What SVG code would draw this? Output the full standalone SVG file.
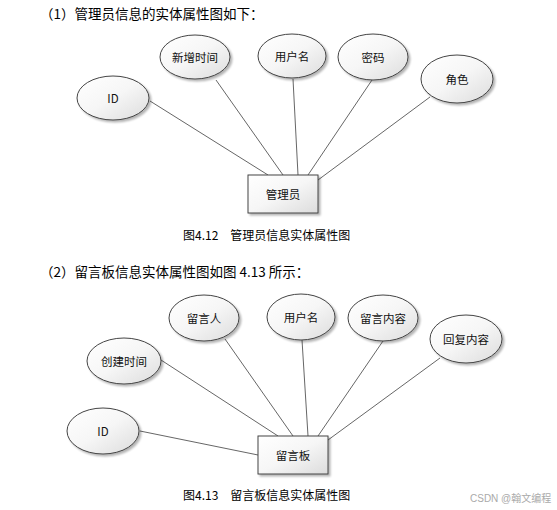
<svg xmlns="http://www.w3.org/2000/svg" width="557" height="510" viewBox="0 0 557 510">
<defs>
<linearGradient id="g" x1="0" y1="0" x2="1" y2="1">
<stop offset="0" stop-color="#ffffff"/>
<stop offset="0.5" stop-color="#f6f6f6"/>
<stop offset="1" stop-color="#dcdcdc"/>
</linearGradient>
<filter id="sh" x="-20%" y="-20%" width="150%" height="150%">
<feGaussianBlur in="SourceAlpha" stdDeviation="1.2"/>
<feOffset dx="2" dy="2" result="b"/>
<feComponentTransfer><feFuncA type="linear" slope="0.3"/></feComponentTransfer>
<feMerge><feMergeNode/><feMergeNode in="SourceGraphic"/></feMerge>
</filter>
</defs>
<style>
.n ellipse, .n rect { fill: url(#g); stroke: #444; stroke-width: 1; filter: url(#sh); }
.t { font-family: "Noto Sans CJK SC", "Liberation Sans", sans-serif; font-size: 11.5px; fill: #111; text-anchor: middle; dominant-baseline: central; }
.h { font-family: "Noto Sans CJK SC", "Liberation Sans", sans-serif; font-size: 13.5px; fill: #000; }
.c { font-family: "Noto Sans CJK SC", "Liberation Sans", sans-serif; font-size: 12px; fill: #000; }
.w { font-family: "Liberation Sans", "Noto Sans CJK SC", sans-serif; font-size: 10px; fill: #aaa; }
#edges line { stroke: #555; stroke-width: 0.9; }
</style>
<rect width="557" height="510" fill="#fff"/>
<text class="h" x="40" y="19">（1）管理员信息的实体属性图如下：</text>
<text class="h" x="40" y="277">（2）留言板信息实体属性图如图 4.13 所示：</text>
<g id="edges">
<line x1="150" y1="101" x2="268" y2="175"/>
<line x1="216" y1="80" x2="283" y2="175"/>
<line x1="293" y1="79" x2="298" y2="175"/>
<line x1="372" y1="80" x2="308" y2="175"/>
<line x1="430" y1="97" x2="318" y2="180"/>
<line x1="161" y1="360" x2="278" y2="436"/>
<line x1="225" y1="339" x2="293" y2="436"/>
<line x1="302" y1="340" x2="308" y2="436"/>
<line x1="383" y1="341" x2="318" y2="436"/>
<line x1="440" y1="358" x2="328" y2="440"/>
<line x1="140" y1="431" x2="258" y2="455"/>
</g>
<g id="id1" class="n"><ellipse cx="113" cy="98" rx="36" ry="22"/><text class="t" x="113" y="98">ID</text></g>
<g id="xzsj" class="n"><ellipse cx="195" cy="57" rx="35" ry="22"/><text class="t" x="195" y="57">新增时间</text></g>
<g id="yhm1" class="n"><ellipse cx="292" cy="56" rx="34" ry="22"/><text class="t" x="292" y="56">用户名</text></g>
<g id="mm" class="n"><ellipse cx="373" cy="57" rx="35" ry="23"/><text class="t" x="373" y="57">密码</text></g>
<g id="js" class="n"><ellipse cx="457" cy="79" rx="36" ry="24"/><text class="t" x="457" y="79">角色</text></g>
<g id="gly" class="n"><rect x="248" y="175" width="70" height="38"/><text class="t" x="283" y="194">管理员</text></g>
<text class="c" x="183" y="240">图4.12　管理员信息实体属性图</text>
<g id="lyr" class="n"><ellipse cx="204" cy="318" rx="35" ry="23"/><text class="t" x="204" y="318">留言人</text></g>
<g id="yhm2" class="n"><ellipse cx="301" cy="317" rx="34" ry="23"/><text class="t" x="301" y="317">用户名</text></g>
<g id="lynr" class="n"><ellipse cx="383" cy="318" rx="35" ry="23"/><text class="t" x="383" y="318">留言内容</text></g>
<g id="hfnr" class="n"><ellipse cx="466" cy="339" rx="36" ry="24"/><text class="t" x="466" y="339">回复内容</text></g>
<g id="cjsj" class="n"><ellipse cx="124" cy="361" rx="37" ry="23"/><text class="t" x="124" y="361">创建时间</text></g>
<g id="id2" class="n"><ellipse cx="103" cy="431" rx="36" ry="23"/><text class="t" x="103" y="431">ID</text></g>
<g id="lyb" class="n"><rect x="258" y="436" width="70" height="38"/><text class="t" x="293" y="455">留言板</text></g>
<text class="c" x="183" y="500">图4.13　留言板信息实体属性图</text>
<text class="w" x="470" y="502">CSDN @翰文编程</text>
</svg>
